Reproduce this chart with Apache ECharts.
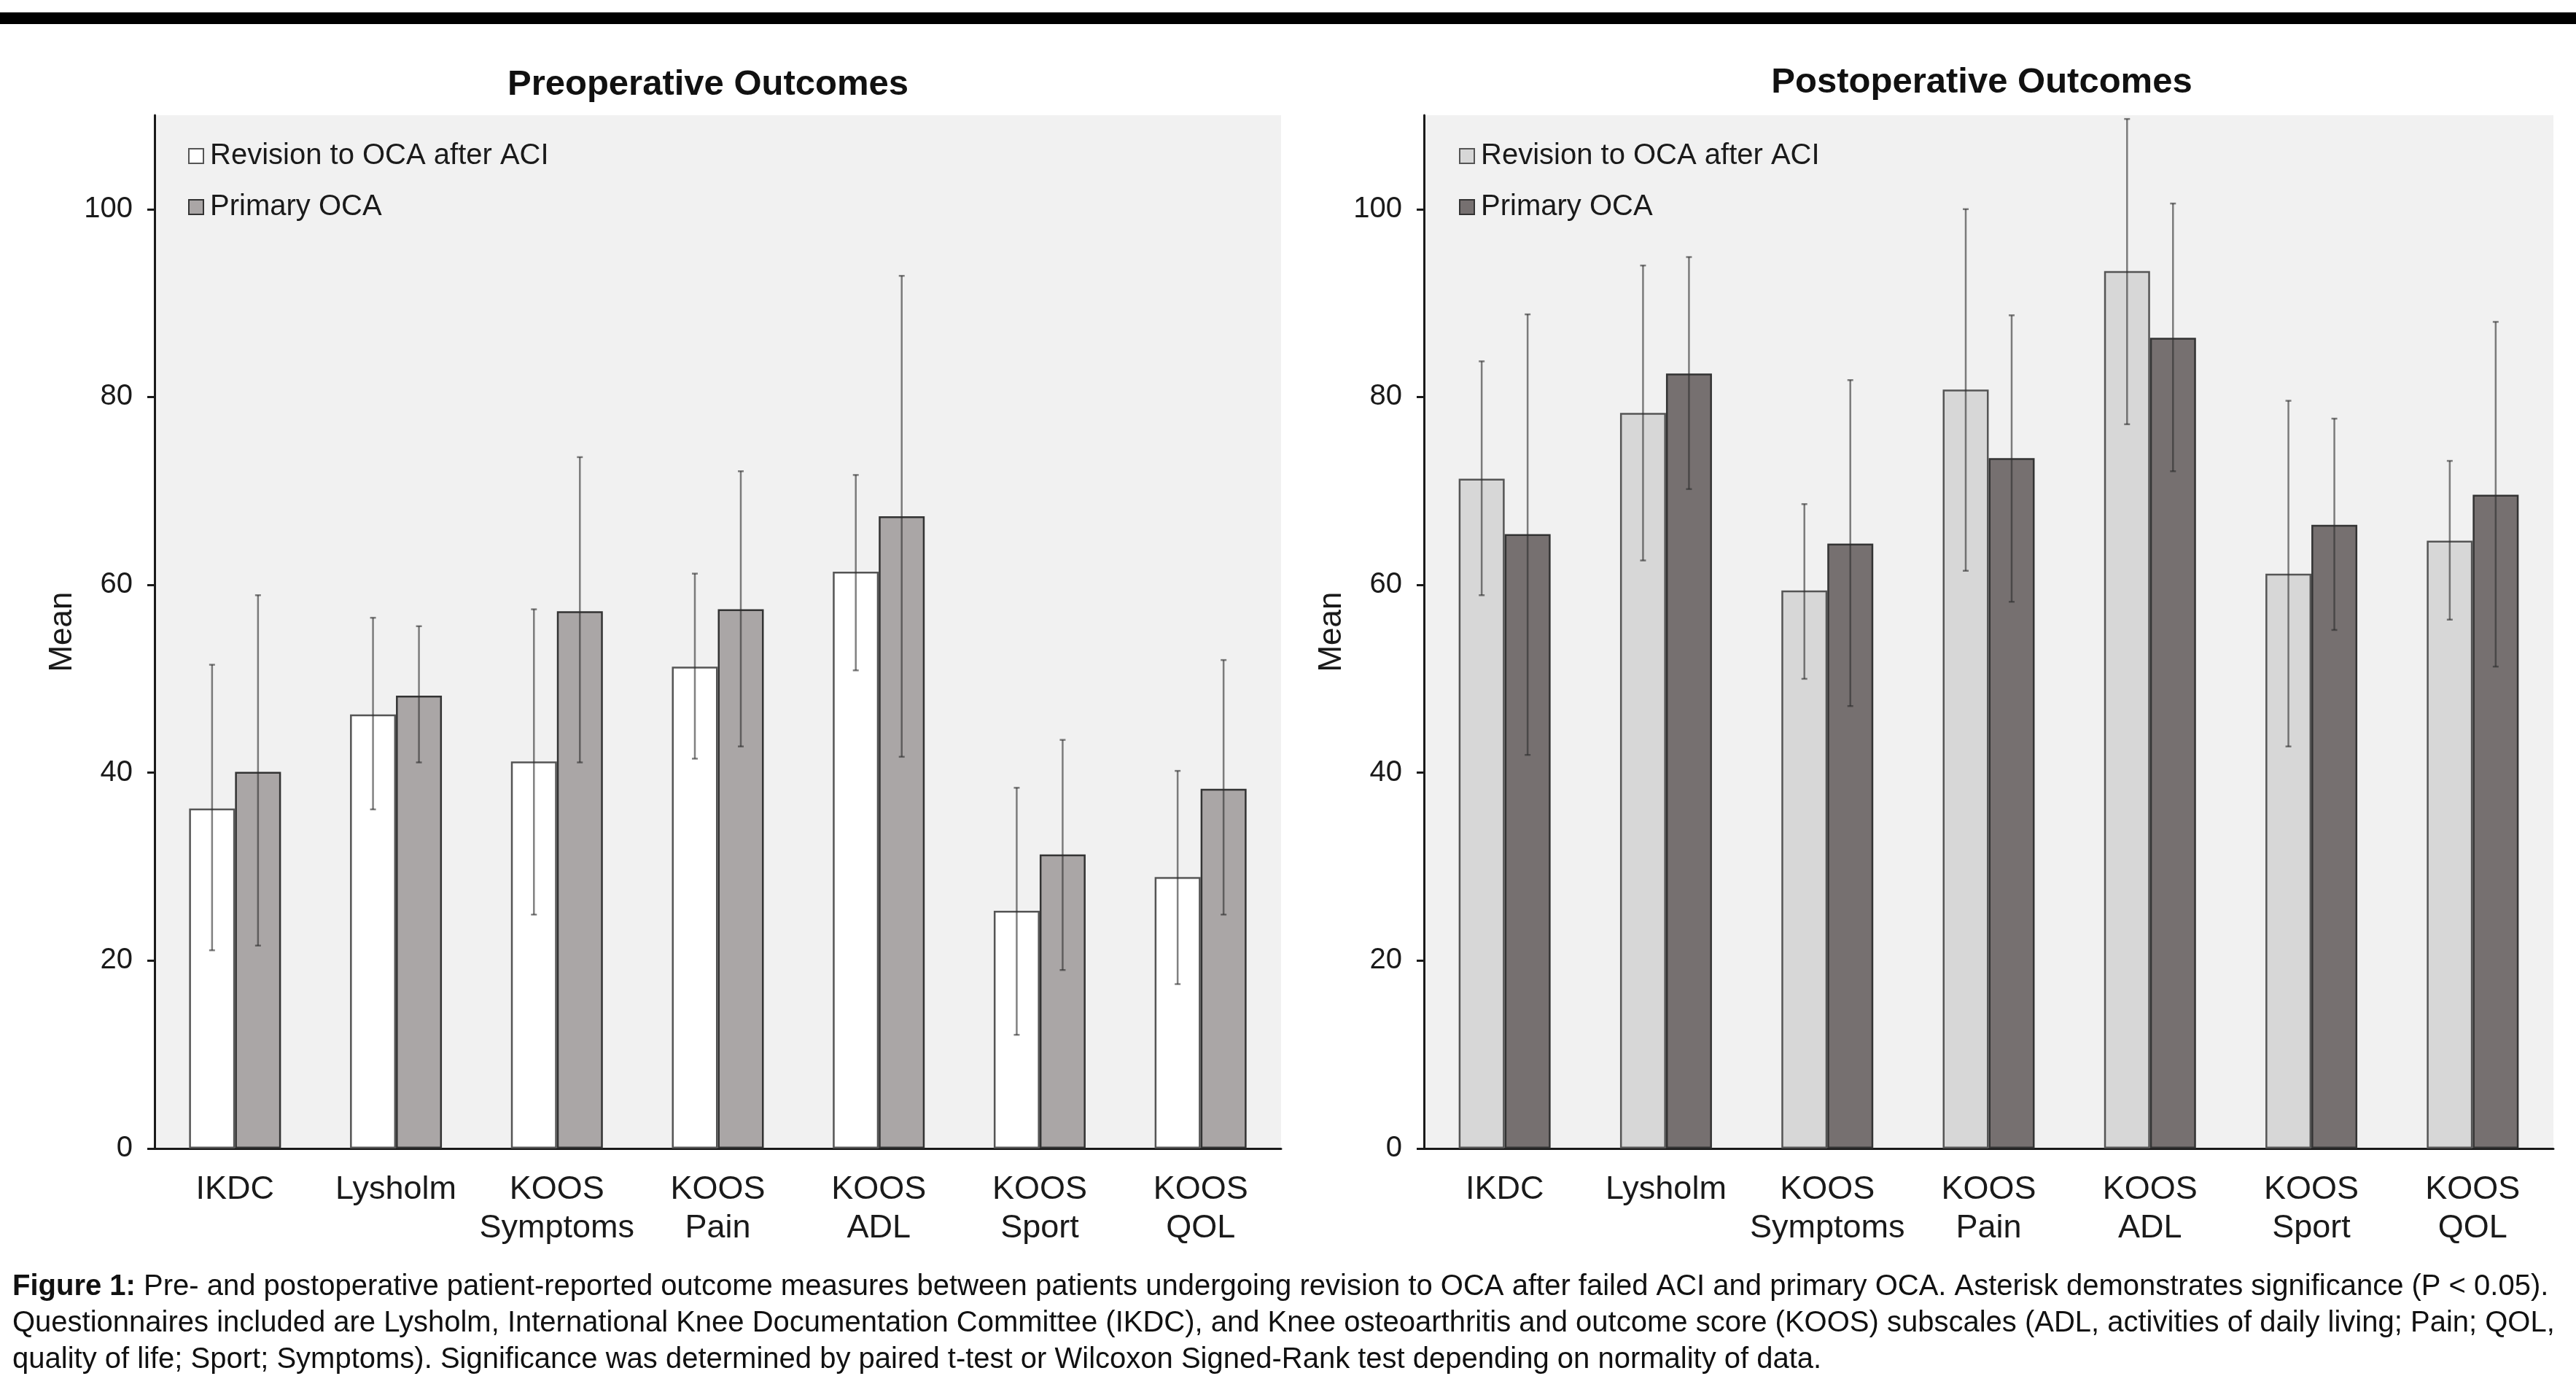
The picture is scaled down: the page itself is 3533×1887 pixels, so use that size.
<!DOCTYPE html>
<html>
<head>
<meta charset="utf-8">
<script src="https://cdn.jsdelivr.net/npm/echarts@6/dist/echarts.min.js"></script>
<style>
html,body{margin:0;padding:0;background:#fff;}
#chart{width:3533px;height:1887px;}
</style>
</head>
<body>
<div id="chart"></div>
<script>
// ---------- data ----------
const categories = ['IKDC', 'Lysholm', 'KOOS\nSymptoms', 'KOOS\nPain', 'KOOS\nADL', 'KOOS\nSport', 'KOOS\nQOL'];
const seriesNames = ['Revision to OCA after ACI', 'Primary OCA'];
const yTicks = [0, 20, 40, 60, 80, 100];
const yMax = 110;

const preRevision     = [36.2, 46.2, 41.2, 51.3, 61.4, 25.3, 28.9];
const preRevisionLow  = [21.1, 36.1, 24.9, 41.5, 50.9, 12.1, 17.5];
const preRevisionHigh = [51.5, 56.5, 57.4, 61.2, 71.7, 38.4, 40.2];
const prePrimary      = [40.1, 48.2, 57.2, 57.4, 67.3, 31.3, 38.3];
const prePrimaryLow   = [21.6, 41.1, 41.1, 42.8, 41.7, 19.0, 24.9];
const prePrimaryHigh  = [58.9, 55.6, 73.6, 72.1, 92.9, 43.5, 52.0];

const postRevision     = [71.3, 78.3, 59.4, 80.8, 93.4, 61.2, 64.7];
const postRevisionLow  = [58.9, 62.6, 50.0, 61.5, 77.1, 42.8, 56.3];
const postRevisionHigh = [83.8, 94.0, 68.6, 100.0, 109.6, 79.6, 73.2];
const postPrimary      = [65.4, 82.5, 64.4, 73.5, 86.3, 66.4, 69.6];
const postPrimaryLow   = [41.9, 70.2, 47.1, 58.2, 72.1, 55.2, 51.3];
const postPrimaryHigh  = [88.8, 94.9, 81.8, 88.7, 100.6, 77.7, 88.0];

const titles = ['Preoperative Outcomes', 'Postoperative Outcomes'];
const yAxisName = 'Mean';
const captionBold = 'Figure 1:';
const captionLines = [
  ' Pre- and postoperative patient-reported outcome measures between patients undergoing revision to OCA after failed ACI and primary OCA. Asterisk demonstrates significance (P < 0.05).',
  'Questionnaires included are Lysholm, International Knee Documentation Committee (IKDC), and Knee osteoarthritis and outcome score (KOOS) subscales (ADL, activities of daily living; Pain; QOL,',
  'quality of life; Sport; Symptoms). Significance was determined by paired t-test or Wilcoxon Signed-Rank test depending on normality of data.'
];

// ---------- styles ----------
const FONT = '"Liberation Sans", Arial, Helvetica, sans-serif';
const BAR_W = 63;
const colors = {
  pre: ['#ffffff', '#aaa6a6'],
  post: ['#d7d7d7', '#767070'],
  border: ['#555555', '#333333']
};
const ERR_COLOR = 'rgba(45,45,45,0.6)';

function zip3(low, high) {
  return low.map((l, i) => [i, l, high[i]]);
}

function errRender(sign) {
  return function (params, api) {
    const idx = api.value(0);
    const x = api.coord([idx, 0])[0] + sign * BAR_W / 2;
    const yl = api.coord([idx, api.value(1)])[1];
    const yh = api.coord([idx, api.value(2)])[1];
    const st = { stroke: ERR_COLOR, lineWidth: 2.5 };
    return {
      type: 'group',
      children: [
        { type: 'line', shape: { x1: x, y1: yl, x2: x, y2: yh }, style: st },
        { type: 'line', shape: { x1: x - 4, y1: yh, x2: x + 4, y2: yh }, style: st },
        { type: 'line', shape: { x1: x - 4, y1: yl, x2: x + 4, y2: yl }, style: st }
      ]
    };
  };
}

const grids = [
  { left: 212, top: 158, width: 1545, height: 1417 },
  { left: 1953, top: 158, width: 1549, height: 1417 }
];

function xAxis(gi) {
  return {
    type: 'category', gridIndex: gi, data: categories,
    axisLine: { show: true, lineStyle: { color: '#1a1a1a', width: 3 } },
    axisTick: { show: false },
    axisLabel: { color: '#1a1a1a', fontSize: 45, lineHeight: 53, margin: 30, fontFamily: FONT, interval: 0 },
    splitLine: { show: false }
  };
}
function yAxis(gi) {
  return {
    type: 'value', gridIndex: gi, min: 0, max: yMax, interval: 20,
    name: yAxisName, nameLocation: 'middle', nameGap: 104,
    nameTextStyle: { color: '#1a1a1a', fontSize: 44, fontFamily: FONT },
    axisLine: { show: true, lineStyle: { color: '#1a1a1a', width: 3 } },
    axisTick: { show: true, length: 10, lineStyle: { color: '#1a1a1a', width: 3 }, customValues: yTicks },
    axisLabel: { color: '#1a1a1a', fontSize: 40, margin: 30, fontFamily: FONT, customValues: yTicks },
    splitLine: { show: false }
  };
}

function barSeries(name, data, gi, color, border) {
  return {
    type: 'bar', name: name, xAxisIndex: gi, yAxisIndex: gi, data: data,
    barWidth: BAR_W, barGap: '0%',
    itemStyle: { color: color, borderColor: border, borderWidth: 2.5 },
    z: 2
  };
}
function errSeries(name, low, high, gi, sign) {
  return {
    type: 'custom', name: name + ' error', xAxisIndex: gi, yAxisIndex: gi,
    data: zip3(low, high), renderItem: errRender(sign), z: 10, silent: true
  };
}

function legend(gi, leftPx, cols) {
  return {
    orient: 'vertical', left: leftPx, top: 194, padding: 0,
    itemWidth: 20, itemHeight: 20, itemGap: 30,
    textStyle: { fontSize: 40, lineHeight: 40, color: '#1a1a1a', fontFamily: FONT, padding: [0, 0, 0, 4] },
    data: seriesNames.map((n, k) => ({
      name: n, icon: 'rect',
      itemStyle: { color: cols[k], borderColor: colors.border[k], borderWidth: 2 }
    }))
  };
}

const option = {
  animation: false,
  backgroundColor: '#ffffff',
  textStyle: { fontFamily: FONT },
  title: [
    { text: titles[0], left: 971, top: 116, padding: 0, textAlign: 'center', textVerticalAlign: 'middle',
      textStyle: { fontSize: 49, fontWeight: 'bold', color: '#111', fontFamily: FONT } },
    { text: titles[1], left: 2718, top: 113, padding: 0, textAlign: 'center', textVerticalAlign: 'middle',
      textStyle: { fontSize: 49, fontWeight: 'bold', color: '#111', fontFamily: FONT } }
  ],
  legend: [legend(0, 258, colors.pre), legend(1, 2001, colors.post)],
  grid: grids.map(g => Object.assign({ show: true, backgroundColor: '#f1f1f1', borderWidth: 0, containLabel: false, outerBoundsMode: 'none' }, g)),
  xAxis: [xAxis(0), xAxis(1)],
  yAxis: [yAxis(0), yAxis(1)],
  series: [
    barSeries(seriesNames[0], preRevision, 0, colors.pre[0], colors.border[0]),
    barSeries(seriesNames[1], prePrimary, 0, colors.pre[1], colors.border[1]),
    barSeries(seriesNames[0], postRevision, 1, colors.post[0], colors.border[0]),
    barSeries(seriesNames[1], postPrimary, 1, colors.post[1], colors.border[1]),
    errSeries(seriesNames[0], preRevisionLow, preRevisionHigh, 0, -1),
    errSeries(seriesNames[1], prePrimaryLow, prePrimaryHigh, 0, 1),
    errSeries(seriesNames[0], postRevisionLow, postRevisionHigh, 1, -1),
    errSeries(seriesNames[1], postPrimaryLow, postPrimaryHigh, 1, 1)
  ],
  graphic: [
    { type: 'rect', left: 0, top: 17, shape: { width: 3533, height: 16 }, style: { fill: '#000' }, silent: true },
    {
      type: 'text', left: 17, top: 1740, silent: true,
      style: {
        text: '{b|' + captionBold + '}{n|' + captionLines[0] + '}\n{n|' + captionLines[1] + '}\n{n|' + captionLines[2] + '}',
        fontFamily: FONT, fontSize: 40, lineHeight: 50, fill: '#111',
        rich: {
          b: { fontWeight: 'bold', fontSize: 40, lineHeight: 50, fontFamily: FONT, fill: '#111' },
          n: { fontSize: 40, lineHeight: 50, fontFamily: FONT, fill: '#111' }
        }
      }
    }
  ]
};

const chart = echarts.init(document.getElementById('chart'), null, { renderer: 'canvas' });
chart.setOption(option);
</script>
</body>
</html>
